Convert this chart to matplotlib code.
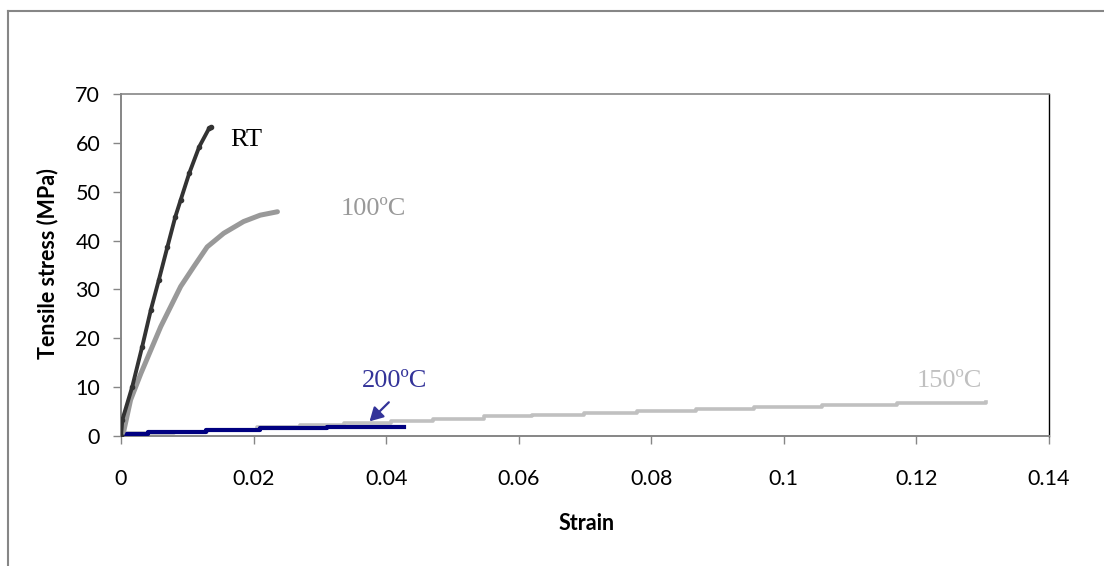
import matplotlib
matplotlib.use("Agg")
import matplotlib.pyplot as plt
from matplotlib.lines import Line2D

# ---- data ----
rt_strain = [0.0, 0.0002, 0.0017, 0.0032, 0.0045, 0.0057, 0.007, 0.0082, 0.009, 0.0103, 0.0118, 0.0133, 0.0136]
rt_stress = [0.0, 3.3, 10.1, 18.3, 25.8, 31.9, 38.7, 44.9, 48.3, 53.8, 59.2, 63.0, 63.2]

t100_strain = [0.0, 0.00045, 0.00145, 0.003, 0.0045, 0.006, 0.0075, 0.009, 0.011, 0.013, 0.0155,
               0.0185, 0.021, 0.0236]
t100_stress = [0.0, 1.2, 7.4, 12.8, 17.6, 22.4, 26.5, 30.6, 34.7, 38.7, 41.5,
               43.9, 45.2, 45.9]

t150_strain = [0.0, 0.008, 0.013, 0.0205, 0.027, 0.0337, 0.0407, 0.047, 0.0548, 0.062, 0.0698,
               0.0779, 0.0867, 0.0955, 0.1057, 0.117, 0.1305]
t150_stress = [0.55, 0.75, 1.2, 1.8, 2.25, 2.7, 3.1, 3.5, 4.0, 4.4, 4.8,
               5.1, 5.45, 5.85, 6.3, 6.8, 7.0]

t200_strain = [0.0, 0.004, 0.0128, 0.021, 0.0311, 0.0427]
t200_stress = [0.4, 0.75, 1.2, 1.55, 1.85, 1.85]

x_ticks = [0, 0.02, 0.04, 0.06, 0.08, 0.1, 0.12, 0.14]
x_ticklabels = ["0", "0.02", "0.04", "0.06", "0.08", "0.1", "0.12", "0.14"]
y_ticks = [0, 10, 20, 30, 40, 50, 60, 70]

W, H = 1104, 566
fig = plt.figure(figsize=(W / 100, H / 100), dpi=100)
ax = fig.add_axes([121 / W, 1 - 436 / H, (1049 - 121) / W, (436 - 94) / H])

sans = ["Lato", "DejaVu Sans"]
serif = ["Liberation Serif", "DejaVu Serif"]

ax.plot(t150_strain, t150_stress, color="#c0c0c0", lw=2.6, drawstyle="steps-post", zorder=2)
ax.plot(t200_strain, t200_stress, color="#000080", lw=3.0, drawstyle="steps-post", zorder=3)
ax.plot(t100_strain, t100_stress, color="#999999", lw=3.6, zorder=4,
        solid_joinstyle="round", solid_capstyle="round")
ax.plot(rt_strain, rt_stress, color="#333333", lw=2.8, marker="o", ms=3, zorder=5,
        solid_joinstyle="round", solid_capstyle="round")

ax.set_xlim(0, 0.14)
ax.set_ylim(0, 70)
ax.set_xticks(x_ticks)
ax.set_xticklabels(x_ticklabels)
ax.set_yticks(y_ticks)

for lab in ax.get_xticklabels() + ax.get_yticklabels():
    lab.set_family(sans)
    lab.set_fontsize(15.5)
    lab.set_color("black")

ax.tick_params(axis="x", direction="out", length=6, width=1, color="#868686", pad=18)
ax.tick_params(axis="y", direction="out", length=6, width=1, color="#868686", pad=9)

ax.spines["left"].set_color("#868686")
ax.spines["bottom"].set_color("#868686")
ax.spines["left"].set_linewidth(1.4)
ax.spines["bottom"].set_linewidth(1.4)
ax.spines["top"].set_color("#868686")
ax.spines["top"].set_linewidth(1.2)
ax.spines["right"].set_color("black")
ax.spines["right"].set_linewidth(1.0)

fig.text(48 / W, 1 - 264 / H, "Tensile stress (MPa)", rotation=90, ha="center", va="center",
         family=sans, fontweight="bold", fontsize=15.5)
fig.text(587 / W, 1 - 524 / H, "Strain", ha="center", va="center",
         family=sans, fontweight="bold", fontsize=15.5)

ax.text(0.0165, 60.5, "RT", family=serif, fontsize=19, color="black", ha="left", va="center")
ax.text(0.0332, 46.5, "100ºC", family=serif, fontsize=19, color="#999999", ha="left", va="center")
ax.text(0.1200, 11.3, "150ºC", family=serif, fontsize=19, color="#c0c0c0", ha="left", va="center")
ax.text(0.0364, 11.3, "200ºC", family=serif, fontsize=19, color="#333399", ha="left", va="center")
ax.annotate("", xy=(0.0372, 2.6), xytext=(0.0407, 7.3),
            arrowprops=dict(arrowstyle="-|>,head_length=0.8,head_width=0.45", color="#333399", lw=1.6))

# outer chart frame
fig.add_artist(Line2D([8 / W, 1.0], [1 - 11 / H, 1 - 11 / H], color="#868686", lw=1.5))
fig.add_artist(Line2D([8 / W, 8 / W], [0.0, 1 - 11 / H], color="#868686", lw=1.5))

fig.savefig("out.png", dpi=100)
